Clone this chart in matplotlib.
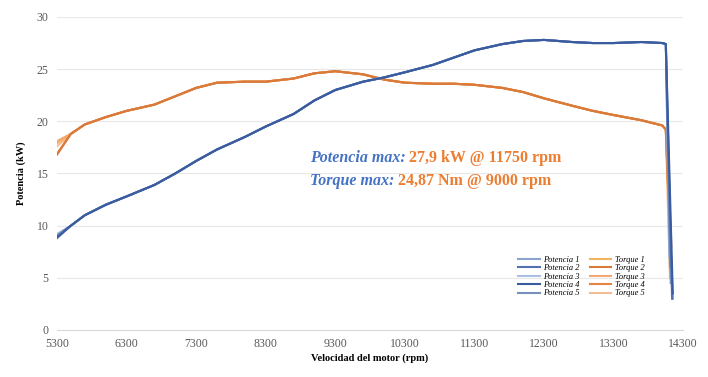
import matplotlib
matplotlib.use("Agg")
import matplotlib.pyplot as plt
from matplotlib.transforms import offset_copy

plt.rcParams['font.family'] = ['Liberation Serif', 'DejaVu Serif']

# shared rpm grid of the body of every run
rpm_body = [5500, 5700, 6000, 6300, 6700, 7000, 7300, 7600, 8000, 8300, 8700,
            9000, 9300, 9700, 10000, 10300, 10700, 11000, 11300, 11700, 12000,
            12300, 12700, 13000, 13300, 13700, 14000, 14050]

potencia_body = [10.0, 11.0, 12.0, 12.8, 13.9, 15.0, 16.2, 17.3, 18.5, 19.5, 20.7,
                 22.0, 23.0, 23.8, 24.2, 24.7, 25.4, 26.1, 26.8, 27.4, 27.7,
                 27.8, 27.6, 27.5, 27.5, 27.6, 27.5, 27.4]

torque_body = [18.8, 19.7, 20.4, 21.0, 21.6, 22.4, 23.2, 23.7, 23.8, 23.8, 24.1,
               24.6, 24.8, 24.5, 24.0, 23.7, 23.6, 23.6, 23.5, 23.2, 22.8,
               22.2, 21.5, 21.0, 20.6, 20.1, 19.6, 19.2]

# per-run start value (5300 rpm) and end of the drop
potencia_start = [9.1, 8.8, 9.2, 8.9, 9.0]
potencia_end_rpm = [14120, 14140, 14100, 14150, 14110]
potencia_end = [4.5, 3.0, 7.0, 3.5, 6.0]

torque_start = [17.9, 16.8, 18.1, 16.9, 17.6]
torque_end_rpm = [14110, 14150, 14130, 14140, 14100]
torque_end = [5.0, 3.0, 8.0, 4.0, 10.0]

potencia_colors = ['#8aa3cf', '#4f72b3', '#a9bfe3', '#3a5c9e', '#7890bd']
torque_colors = ['#f1b461', '#d9793a', '#f3a873', '#e6843f', '#f4bb94']
# drawing order inside each group, darker runs on top
potencia_z = [3.2, 3.4, 3.1, 3.5, 3.3]
torque_z = [2.2, 2.5, 2.3, 2.4, 2.1]

x_ticks = list(range(5300, 14301, 1000))
y_ticks = [0, 5, 10, 15, 20, 25, 30]

fig = plt.figure(figsize=(7.08, 3.77), dpi=100)
ax = fig.add_axes([0.0805, 0.1247, 0.8845, 0.8303])

for i in range(5):
    x = [5300] + rpm_body + [torque_end_rpm[i]]
    y = [torque_start[i]] + torque_body + [torque_end[i]]
    ax.plot(x, y, color=torque_colors[i], lw=1.5, label='Torque %d' % (i + 1), zorder=torque_z[i])

for i in range(5):
    x = [5300] + rpm_body + [potencia_end_rpm[i]]
    y = [potencia_start[i]] + potencia_body + [potencia_end[i]]
    ax.plot(x, y, color=potencia_colors[i], lw=1.5, label='Potencia %d' % (i + 1), zorder=potencia_z[i])

ax.set_xlim(5300, 14300)
ax.set_ylim(0, 30)
ax.set_xticks(x_ticks)
ax.set_yticks(y_ticks)
ax.tick_params(length=0, labelsize=8.5, labelcolor='#595959', pad=6)
ax.grid(axis='y', color='#e8e8e8', lw=0.8)
ax.set_axisbelow(True)
for s in ['top', 'right', 'left']:
    ax.spines[s].set_visible(False)
ax.spines['bottom'].set_color('#d9d9d9')

ax.set_xlabel('Velocidad del motor (rpm)', fontsize=7.5, fontweight='bold', labelpad=2)
ax.set_ylabel('Potencia (kW)', fontsize=7.5, fontweight='bold', labelpad=8)

handles, labels = ax.get_legend_handles_labels()
order = list(range(5, 10)) + list(range(0, 5))
ax.legend([handles[k] for k in order], [labels[k] for k in order], ncol=2,
          loc='lower right', bbox_to_anchor=(0.95, 0.08), frameon=False,
          prop={'style': 'italic', 'size': 6}, labelspacing=0.05,
          handlelength=2.6, columnspacing=1.2, handletextpad=0.4)

# annotation, two colours per line
fig.canvas.draw()
r = fig.canvas.get_renderer()
t1 = ax.text(8930, 16.5, 'Potencia max: ', color='#4472c4', fontsize=11.5,
             fontweight='bold', style='italic', va='center')
w1 = t1.get_window_extent(r).width
ax.text(8930, 16.5, '27,9 kW @ 11750 rpm', color='#ed7d31', fontsize=11.5, fontweight='bold',
        va='center', transform=offset_copy(ax.transData, fig=fig, x=w1, y=0, units='dots'))
t2 = ax.text(8930, 14.3, 'Torque max: ', color='#4472c4', fontsize=11.5,
             fontweight='bold', style='italic', va='center')
w2 = t2.get_window_extent(r).width
ax.text(8930, 14.3, '24,87 Nm @ 9000 rpm', color='#ed7d31', fontsize=11.5, fontweight='bold',
        va='center', transform=offset_copy(ax.transData, fig=fig, x=w2, y=0, units='dots'))

fig.savefig('out.png', dpi=100)
